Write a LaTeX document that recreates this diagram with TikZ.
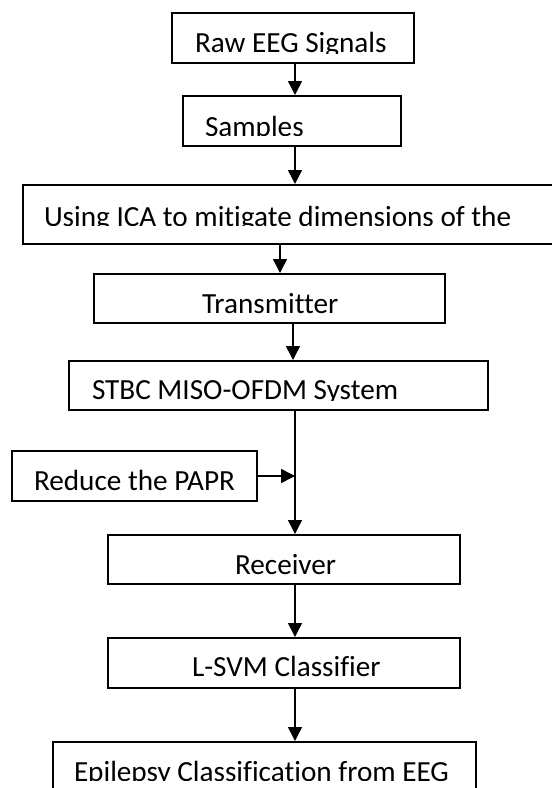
\documentclass[tikz,border=0pt]{standalone}
\usepackage{fontspec}
\setmainfont{Carlito}[Ligatures = NoCommon]
\usetikzlibrary{arrows.meta}
\newcommand{\boxfont}{\fontsize{14.6}{17}\selectfont}
\tikzset{blok/.style = {draw, line width = 1pt, inner sep = 0, anchor = north west}}
\tikzset{lbl/.style n args = {4}{path picture = {
           \clip ([yshift=1pt]path picture bounding box.north west) rectangle ([yshift=-#3]path picture bounding box.north east);
           \node [anchor = base west, inner sep = 0, minimum width = 0pt, minimum height = 0pt, font = \boxfont]
             at ([xshift=#1, yshift=-#2]path picture bounding box.north west) {#4};}}}
\tikzset{arw/.style = {-{Triangle[width=7pt, length=7pt]}, line width = 0.75pt}}

\begin{document}
\begin{tikzpicture}[x = 0.5pt, y = -0.5pt]
      \useasboundingbox (0, 0) rectangle (552, 788);
      \clip (0, 0) rectangle (552, 788);

      \node [blok, minimum width = 121pt, minimum height = 25pt, lbl = {11pt}{19.5pt}{20pt}{Raw EEG Signals}] (raw) at (171, 12) {};
      \node [blok, minimum width = 109pt, minimum height = 25pt, lbl = {10.5pt}{20pt}{19.5pt}{Samples}] (samp) at (182, 95) {};
      \node [blok, minimum width = 289pt, minimum height = 29.5pt, lbl = {10pt}{20.5pt}{20pt}{Using ICA to mitigate dimensions of the}] (ica) at (22, 184) {};
      \node [blok, minimum width = 175.5pt, minimum height = 24.5pt, lbl = {53.5pt}{19.5pt}{25pt}{Transmitter}] (tx) at (93, 273) {};
      \node [blok, minimum width = 209.5pt, minimum height = 24.5pt, lbl = {11pt}{19.25pt}{19.75pt}{STBC MISO-OFDM System}] (stbc) at (68, 360) {};
      \node [blok, minimum width = 122.5pt, minimum height = 25pt, lbl = {10.5pt}{19.5pt}{25pt}{Reduce the PAPR}] (papr) at (11, 450) {};
      \node [blok, minimum width = 176pt, minimum height = 24.5pt, lbl = {63pt}{19.5pt}{25pt}{Receiver}] (rcv) at (107, 534) {};
      \node [blok, minimum width = 176pt, minimum height = 25pt, lbl = {41.5pt}{19pt}{25pt}{L-SVM Classifier}] (svm) at (107, 637) {};
      \node [blok, minimum width = 211.5pt, minimum height = 40pt, lbl = {10pt}{19.5pt}{19pt}{Epilepsy Classification from EEG}] (epi) at (52, 741) {};

      \coordinate (spine) at (295, 0);
      \coordinate (spineb) at (280, 0);
      \coordinate (spinec) at (293, 0);

      \draw [arw] (spine |- raw.south) -- (spine |- samp.north);
      \draw [arw] (spine |- samp.south) -- (spine |- ica.north);
      \draw [arw] (spineb |- ica.south) -- (spineb |- tx.north);
      \draw [arw] (spinec |- tx.south) -- (spinec |- stbc.north);
      \draw [arw] (spine |- stbc.south) -- (spine |- rcv.north);
      \draw [arw] (papr.east) -- (spine |- papr.east);
      \draw [arw] (spine |- rcv.south) -- (spine |- svm.north);
      \draw [arw] (spine |- svm.south) -- (spine |- epi.north);
    \end{tikzpicture}
\end{document}
